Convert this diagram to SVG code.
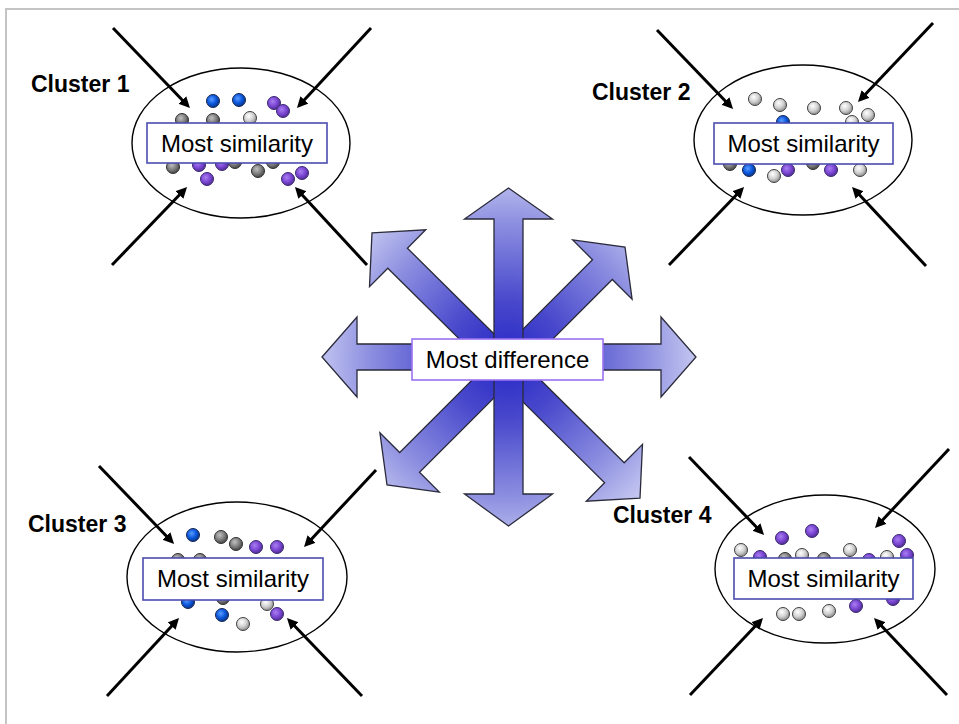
<svg xmlns="http://www.w3.org/2000/svg" width="959" height="724" viewBox="0 0 959 724">
<defs>
<style>
.ell{fill:#fff;stroke:#000;stroke-width:1.4}
.box{fill:#fff;stroke:#4c4cb0;stroke-width:1.6}
.dbox{fill:#fff;stroke:#9b72f2;stroke-width:1.6}
.lbl{font-family:"Liberation Sans",Arial,sans-serif;font-size:24px;fill:#000;text-anchor:middle}
.cl{font-family:"Liberation Sans",Arial,sans-serif;font-size:23px;font-weight:bold;fill:#000}
.con{stroke:#000;stroke-width:3;fill:none;marker-end:url(#ah)}
.star{fill:url(#sg);stroke:#2a2a3a;stroke-width:1.3;stroke-linejoin:miter}
.dot{stroke-width:1}
.B{fill:url(#gB);stroke:#1a2850}
.P{fill:url(#gP);stroke:#3a2a70}
.L{fill:url(#gL);stroke:#404040}
.D{fill:url(#gD);stroke:#303030}
</style>
<marker id="ah" markerUnits="userSpaceOnUse" markerWidth="14" markerHeight="12" refX="3" refY="5.5" orient="auto">
<path d="M0,0 L11,5.5 L0,11 z" fill="#000"/>
</marker>
<radialGradient id="sg" gradientUnits="userSpaceOnUse" cx="507" cy="360" r="195">
<stop offset="0" stop-color="#2626c6"/>
<stop offset="0.3" stop-color="#4848cc"/>
<stop offset="0.7" stop-color="#8c8ee0"/>
<stop offset="1" stop-color="#cacdf2"/>
</radialGradient>
<radialGradient id="gB" cx="0.4" cy="0.38" r="0.6">
<stop offset="0" stop-color="#5a9cff"/>
<stop offset="0.6" stop-color="#0a56dc"/>
<stop offset="1" stop-color="#0a3890"/>
</radialGradient>
<radialGradient id="gP" cx="0.4" cy="0.38" r="0.6">
<stop offset="0" stop-color="#a87ff0"/>
<stop offset="0.6" stop-color="#7b46d4"/>
<stop offset="1" stop-color="#55309a"/>
</radialGradient>
<radialGradient id="gL" cx="0.4" cy="0.35" r="0.6">
<stop offset="0" stop-color="#ffffff"/>
<stop offset="0.6" stop-color="#d2d2d2"/>
<stop offset="1" stop-color="#9a9a9a"/>
</radialGradient>
<radialGradient id="gD" cx="0.4" cy="0.35" r="0.6">
<stop offset="0" stop-color="#c0c0c0"/>
<stop offset="0.6" stop-color="#808080"/>
<stop offset="1" stop-color="#505050"/>
</radialGradient>
</defs>
<rect x="0" y="0" width="959" height="724" fill="#fff"/>
<rect x="6" y="9" width="1000" height="1000" fill="none" stroke="#c4c4c4" stroke-width="2"/>

<g id="difference">
<path class="star" d="M372,232.9 L425.7,229.8 L407.4,248.2 L624.2,462.8 L642.5,444.4 L640,498.1 L586.3,501.2 L604.6,482.8 L387.8,268.2 L369.5,286.6 Z"/>
<path class="star" d="M387,485 L379.9,432.7 L399.7,452.5 L592.5,259.7 L572.7,239.9 L625,247 L632.1,299.3 L612.3,279.5 L419.5,472.3 L439.3,492.1 Z"/>
<path class="star" d="M322,357 L357,317 L357,344 L661,344 L661,317 L696,357 L661,397 L661,370 L357,370 L357,397 Z"/>
<path class="star" d="M508.5,188 L552.5,219 L523,219 L523,494 L552.5,494 L508.5,526 L464.5,494 L494,494 L494,219 L464.5,219 Z"/>
<rect class="dbox" x="412" y="339" width="191" height="41"/>
<text class="lbl" x="507.5" y="368">Most difference</text>
</g>

<g id="cluster1">
<ellipse class="ell" cx="241" cy="143" rx="109" ry="75"/>
<g class="dot">
<circle class="B" cx="213" cy="101" r="6.5"/><circle class="B" cx="239" cy="100" r="6.5"/>
<circle class="P" cx="274" cy="103" r="6.5"/><circle class="P" cx="283" cy="111" r="6.5"/>
<circle class="D" cx="182" cy="120" r="6.5"/><circle class="D" cx="213" cy="120" r="6.5"/><circle class="L" cx="250" cy="118" r="6.5"/>
<circle class="D" cx="235" cy="162" r="6.5"/><circle class="D" cx="273" cy="162" r="6.5"/>
<circle class="D" cx="173" cy="167" r="6.5"/><circle class="P" cx="199" cy="165" r="6.5"/><circle class="P" cx="222" cy="164" r="6.5"/>
<circle class="P" cx="207" cy="179" r="6.5"/><circle class="D" cx="258" cy="171" r="6.5"/>
<circle class="P" cx="302" cy="173" r="6.5"/><circle class="P" cx="288" cy="179" r="6.5"/>
</g>
<rect class="box" x="147" y="123" width="180" height="40"/>
<text class="lbl" x="237" y="152">Most similarity</text>
<text class="cl" x="31" y="92">Cluster 1</text>
</g>

<g id="cluster2">
<ellipse class="ell" cx="803" cy="140" rx="109" ry="75"/>
<g class="dot">
<circle class="L" cx="755" cy="99" r="6.5"/><circle class="L" cx="780" cy="105" r="6.5"/><circle class="L" cx="814" cy="108" r="6.5"/>
<circle class="L" cx="846" cy="108" r="6.5"/><circle class="L" cx="852" cy="122" r="6.5"/><circle class="L" cx="868" cy="115" r="6.5"/>
<circle class="B" cx="783" cy="122" r="6.5"/>
<circle class="D" cx="730" cy="164" r="6.5"/><circle class="D" cx="813" cy="163" r="6.5"/>
<circle class="B" cx="749" cy="170" r="6.5"/><circle class="L" cx="774" cy="176" r="6.5"/><circle class="P" cx="788" cy="170" r="6.5"/>
<circle class="P" cx="831" cy="170" r="6.5"/><circle class="L" cx="860" cy="170" r="6.5"/>
</g>
<rect class="box" x="714" y="123" width="179" height="41"/>
<text class="lbl" x="803.5" y="152">Most similarity</text>
<text class="cl" x="592" y="100">Cluster 2</text>
</g>

<g id="cluster3">
<ellipse class="ell" cx="237" cy="577" rx="110" ry="75"/>
<g class="dot">
<circle class="B" cx="193" cy="535" r="6.5"/><circle class="D" cx="221" cy="537" r="6.5"/><circle class="D" cx="236" cy="544" r="6.5"/>
<circle class="P" cx="256" cy="547" r="6.5"/><circle class="P" cx="277" cy="547" r="6.5"/>
<circle class="D" cx="178" cy="560" r="6.5"/><circle class="D" cx="200" cy="560" r="6.5"/>
<circle class="B" cx="188" cy="602" r="6.5"/><circle class="D" cx="223" cy="598" r="6.5"/><circle class="B" cx="222" cy="615" r="6.5"/>
<circle class="L" cx="243" cy="624" r="6.5"/><circle class="L" cx="267" cy="604" r="6.5"/><circle class="P" cx="277" cy="614" r="6.5"/>
</g>
<rect class="box" x="143" y="558" width="180" height="42"/>
<text class="lbl" x="233" y="587">Most similarity</text>
<text class="cl" x="28" y="532">Cluster 3</text>
</g>

<g id="cluster4">
<ellipse class="ell" cx="825" cy="569" rx="110" ry="74"/>
<g class="dot">
<circle class="P" cx="782" cy="538" r="6.5"/><circle class="P" cx="812" cy="531" r="6.5"/>
<circle class="P" cx="899" cy="541" r="6.5"/><circle class="P" cx="907" cy="555" r="6.5"/>
<circle class="L" cx="741" cy="550" r="6.5"/><circle class="P" cx="760" cy="557" r="6.5"/><circle class="D" cx="785" cy="559" r="6.5"/>
<circle class="L" cx="802" cy="555" r="6.5"/><circle class="D" cx="824" cy="559" r="6.5"/><circle class="L" cx="850" cy="550" r="6.5"/>
<circle class="P" cx="869" cy="560" r="6.5"/><circle class="L" cx="887" cy="557" r="6.5"/>
<circle class="L" cx="783" cy="614" r="6.5"/><circle class="L" cx="799" cy="614" r="6.5"/><circle class="L" cx="829" cy="611" r="6.5"/>
<circle class="P" cx="856" cy="606" r="6.5"/><circle class="P" cx="893" cy="599" r="6.5"/>
</g>
<rect class="box" x="734" y="558" width="179" height="41"/>
<text class="lbl" x="823.5" y="587">Most similarity</text>
<text class="cl" x="613" y="523">Cluster 4</text>
</g>

<g id="connectors">
<line class="con" x1="113" y1="28" x2="184.4" y2="102.2"/>
<line class="con" x1="371" y1="28" x2="302.4" y2="102.1"/>
<line class="con" x1="112" y1="265" x2="181.5" y2="192.8"/>
<line class="con" x1="367" y1="265" x2="300.4" y2="192.9"/>

<line class="con" x1="657" y1="30" x2="727.5" y2="103.2"/>
<line class="con" x1="933" y1="23" x2="863.5" y2="96.2"/>
<line class="con" x1="669" y1="265" x2="738.5" y2="192.8"/>
<line class="con" x1="926" y1="266" x2="857.5" y2="192.8"/>

<line class="con" x1="99" y1="466" x2="168.5" y2="538.2"/>
<line class="con" x1="376" y1="470" x2="309.5" y2="541.2"/>
<line class="con" x1="107" y1="696" x2="173.6" y2="623.9"/>
<line class="con" x1="362" y1="696" x2="292.5" y2="623.8"/>

<line class="con" x1="689" y1="457" x2="758.5" y2="529.2"/>
<line class="con" x1="949" y1="449" x2="880.5" y2="522.2"/>
<line class="con" x1="690" y1="695" x2="757.5" y2="623.8"/>
<line class="con" x1="947" y1="695" x2="879.5" y2="623.8"/>
</g>
</svg>
